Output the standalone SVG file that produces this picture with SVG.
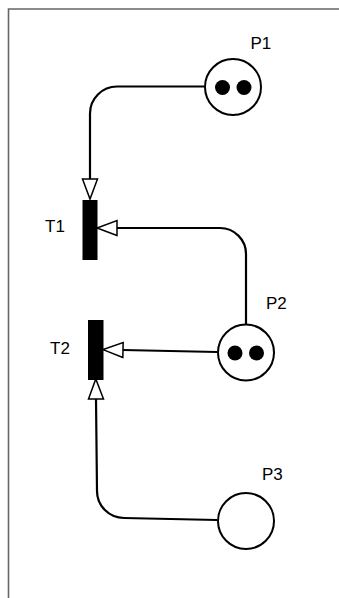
<svg xmlns="http://www.w3.org/2000/svg" width="339" height="598" viewBox="0 0 339 598">
  <defs>
    <marker id="arr" markerUnits="userSpaceOnUse" markerWidth="24" markerHeight="20" viewBox="-1 -1 24 18" refX="0" refY="7.5" orient="auto" overflow="visible">
      <path d="M0,0 L20,7.5 L0,15 Z" fill="#fff" stroke="#000" stroke-width="1.5" stroke-linejoin="miter"/>
    </marker>
  </defs>
  <style>
    .frame { fill: none; stroke: #666; stroke-width: 1.6; }
    .place { fill: #fff; stroke: #000; stroke-width: 2; }
    .token { fill: #000; }
    .trans { fill: #000; stroke: #000; stroke-width: 1; }
    .lbl { font-family: "Liberation Sans", Arial, sans-serif; font-size: 17px; fill: #000; }
    .arc { fill: none; stroke: #000; stroke-width: 2.2; marker-end: url(#arr); }
  </style>
  <rect width="339" height="598" fill="#fff"/>
  <path class="frame" d="M8.5,598 V9 H339"/>

  <g id="connectors">
    <path class="arc" d="M204,86.5 H117 A27,27 0 0 0 90,113.5 V179"/>
    <path class="arc" d="M246,324 V254 A26,26 0 0 0 220,228 H117"/>
    <path class="arc" d="M217,352 L123,350"/>
    <path class="arc" d="M217,520 L124,518 A27,27 0 0 1 97,491 L96,399"/>
  </g>

  <g id="P1">
    <circle class="place" cx="233" cy="87" r="28"/>
    <circle class="token" cx="222.5" cy="87.5" r="7.5"/>
    <circle class="token" cx="244" cy="87.5" r="7.5"/>
    <text class="lbl" x="250.5" y="48.5">P1</text>
  </g>
  <g id="P2">
    <circle class="place" cx="246" cy="352.5" r="28"/>
    <circle class="token" cx="235" cy="353" r="7.5"/>
    <circle class="token" cx="256.5" cy="353" r="7.5"/>
    <text class="lbl" x="266" y="309">P2</text>
  </g>
  <g id="P3">
    <circle class="place" cx="246" cy="521" r="28"/>
    <text class="lbl" x="262" y="480">P3</text>
  </g>
  <g id="T1">
    <rect class="trans" x="83" y="200.5" width="14" height="59"/>
    <text class="lbl" x="45" y="231.5">T1</text>
  </g>
  <g id="T2">
    <rect class="trans" x="88.5" y="320.5" width="14.5" height="59"/>
    <text class="lbl" x="50" y="354">T2</text>
  </g>
</svg>
